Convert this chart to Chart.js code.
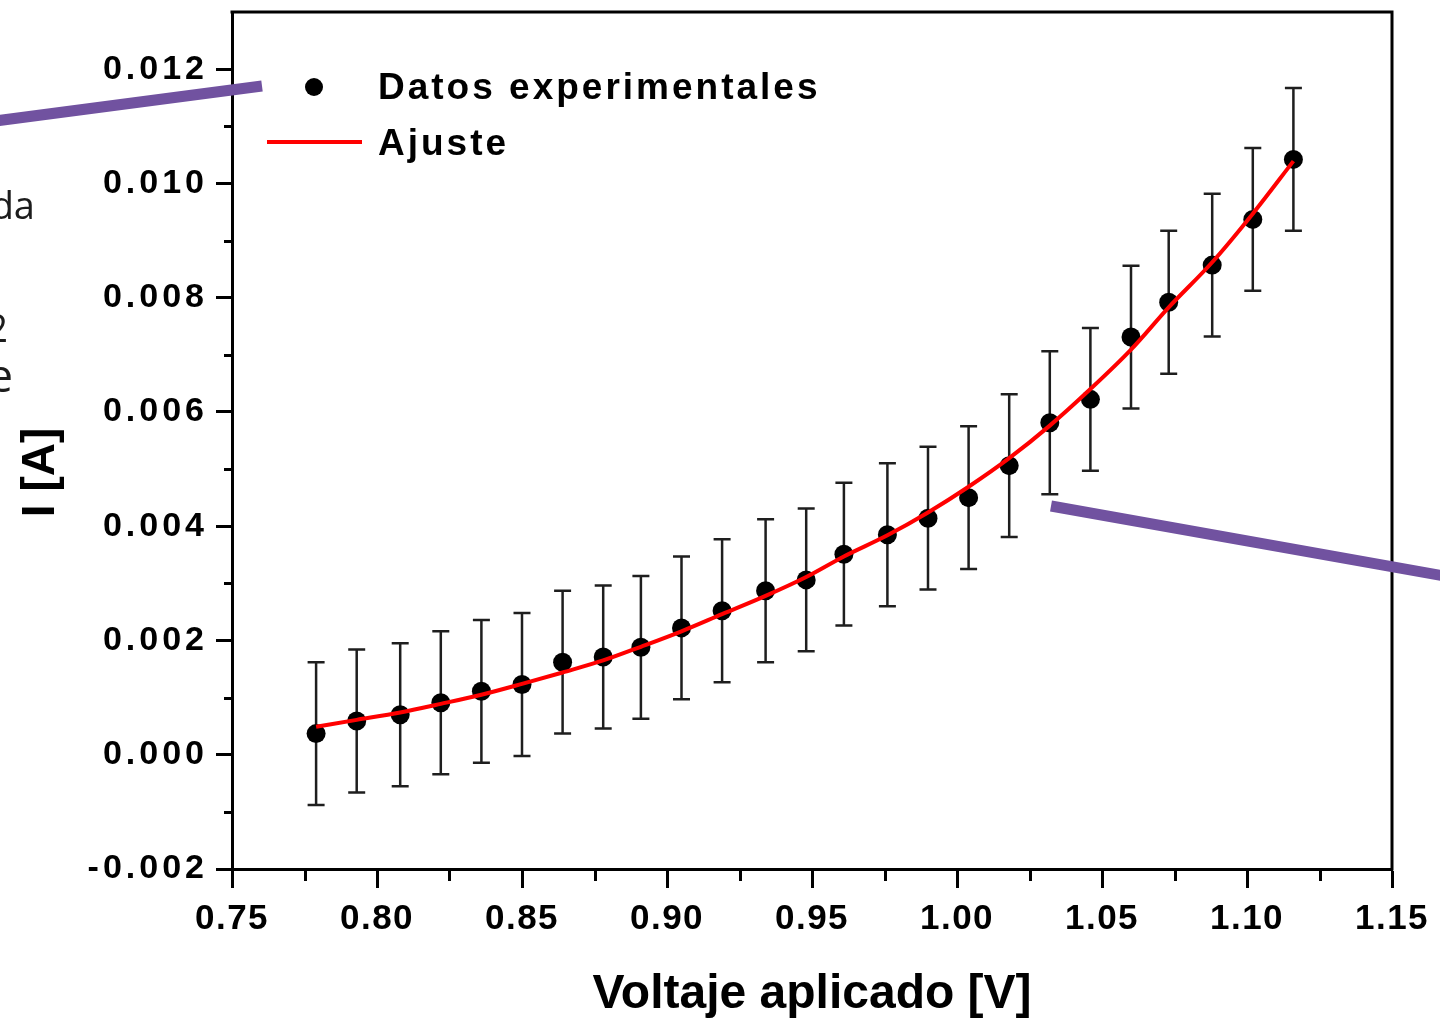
<!DOCTYPE html>
<html>
<head>
<meta charset="utf-8">
<script src="https://cdn.jsdelivr.net/npm/chart.js@4/dist/chart.umd.min.js"></script>
<style>
  html, body { margin: 0; padding: 0; background: #ffffff; width: 1440px; height: 1024px; overflow: hidden; }
  #wrap { position: relative; width: 1440px; height: 1024px; overflow: hidden; }
  #c { position: absolute; left: 0; top: 0; }
  .frag { position: absolute; font-family: "Open Sans", "Noto Sans", sans-serif; color: #1c1c1c; white-space: nowrap; text-align: right; }
</style>
</head>
<body>
<div id="wrap">
  <canvas id="c" width="1440" height="1024"></canvas>
  <div class="frag" style="right:1405px; top:185px; font-size:38px; line-height:38px;">da</div>
  <div class="frag" style="right:1432px; top:308px; font-size:38px; line-height:38px;">2</div>
  <div class="frag" style="right:1427px; top:351px; font-size:46px; line-height:46px;">e</div>
</div>
<script>
// ---------- data ----------
const voltage = [0.779, 0.793, 0.808, 0.822, 0.836, 0.850, 0.864, 0.878, 0.891, 0.905,
                 0.919, 0.934, 0.948, 0.961, 0.976, 0.990, 1.004, 1.018, 1.032, 1.046,
                 1.060, 1.073, 1.088, 1.102, 1.116];
const current = [0.00037, 0.00059, 0.00070, 0.00091, 0.00111, 0.00123, 0.00162, 0.00171, 0.00188, 0.00222,
                 0.00252, 0.00287, 0.00306, 0.00351, 0.00385, 0.00414, 0.00450, 0.00506, 0.00581, 0.00622,
                 0.00731, 0.00792, 0.00857, 0.00937, 0.01042];
const currentErr = [0.00125, 0.00125, 0.00125, 0.00125, 0.00125, 0.00125, 0.00125, 0.00125, 0.00125, 0.00125,
                    0.00125, 0.00125, 0.00125, 0.00125, 0.00125, 0.00125, 0.00125, 0.00125, 0.00125, 0.00125,
                    0.00125, 0.00125, 0.00125, 0.00125, 0.00125];
const fitVoltage = [0.779, 0.793, 0.808, 0.822, 0.836, 0.850, 0.864, 0.878, 0.891, 0.905,
                    0.919, 0.934, 0.948, 0.961, 0.976, 0.990, 1.004, 1.018, 1.032, 1.046,
                    1.060, 1.073, 1.088, 1.102, 1.116];
const fitCurrent = [0.00049, 0.00061, 0.00074, 0.00089, 0.00105, 0.00124, 0.00144, 0.00165, 0.00189, 0.00216,
                    0.00246, 0.00278, 0.00311, 0.00347, 0.00384, 0.00424, 0.00469, 0.00519, 0.00576, 0.00640,
                    0.00709, 0.00783, 0.00862, 0.00947, 0.01039];
const xTicks = [0.75, 0.80, 0.85, 0.90, 0.95, 1.00, 1.05, 1.10, 1.15];
const xMinorTicks = [0.775, 0.825, 0.875, 0.925, 0.975, 1.025, 1.075, 1.125];
const yTicks = [-0.002, 0.000, 0.002, 0.004, 0.006, 0.008, 0.010, 0.012];
const yMinorTicks = [-0.001, 0.001, 0.003, 0.005, 0.007, 0.009, 0.011];
const seriesLabels = ['Datos experimentales', 'Ajuste'];
const xTitle = 'Voltaje aplicado [V]';
const yTitle = 'I [A]';

const FONT = '"Liberation Sans", Arial, "DejaVu Sans", sans-serif';

// letter spacing for tick labels (the reference glyphs are widely spaced)
const LETTER_SPACING = { x: '1.5px', y: '4px' };
const LinearScale = Chart.registry.getScale('linear');
const origDrawLabels = LinearScale.prototype.drawLabels;
LinearScale.prototype.drawLabels = function (area) {
  const c = this.ctx;
  const prev = c.letterSpacing;
  c.letterSpacing = LETTER_SPACING[this.id] || '0px';
  origDrawLabels.call(this, area);
  c.letterSpacing = prev || '0px';
};

const deco = {
  id: 'deco',
  beforeDatasetsDraw(chart) {
    const { ctx, scales: { x, y } } = chart;
    ctx.save();
    ctx.strokeStyle = '#1e1e1e';
    ctx.lineWidth = 2.5;
    voltage.forEach((v, i) => {
      const px = x.getPixelForValue(v);
      const top = y.getPixelForValue(current[i] + currentErr[i]);
      const bot = y.getPixelForValue(current[i] - currentErr[i]);
      ctx.beginPath();
      ctx.moveTo(px, top); ctx.lineTo(px, bot);
      ctx.moveTo(px - 8.5, top); ctx.lineTo(px + 8.5, top);
      ctx.moveTo(px - 8.5, bot); ctx.lineTo(px + 8.5, bot);
      ctx.stroke();
    });
    ctx.restore();
  },
  afterDraw(chart) {
    const { ctx, chartArea: a, scales: { x, y } } = chart;
    ctx.save();
    // frame top / right
    ctx.strokeStyle = '#000';
    ctx.lineWidth = 3;
    ctx.beginPath();
    ctx.moveTo(a.left - 1.5, a.top); ctx.lineTo(a.right, a.top);
    ctx.lineTo(a.right, a.bottom + 1.5);
    ctx.stroke();
    // minor ticks
    ctx.beginPath();
    xMinorTicks.forEach(v => {
      const px = Math.round(x.getPixelForValue(v)) + 0.5;
      ctx.moveTo(px, a.bottom); ctx.lineTo(px, a.bottom + 12);
    });
    yMinorTicks.forEach(v => {
      const py = Math.round(y.getPixelForValue(v)) + 0.5;
      ctx.moveTo(a.left, py); ctx.lineTo(a.left - 8, py);
    });
    ctx.stroke();

    // legend
    ctx.fillStyle = '#000';
    ctx.beginPath();
    ctx.arc(314, 87, 9, 0, Math.PI * 2);
    ctx.fill();
    ctx.strokeStyle = '#ff0000';
    ctx.lineWidth = 4;
    ctx.beginPath();
    ctx.moveTo(267, 142); ctx.lineTo(362, 142);
    ctx.stroke();
    ctx.letterSpacing = '3px';
    ctx.font = 'bold 37px ' + FONT;
    ctx.textAlign = 'left';
    ctx.textBaseline = 'alphabetic';
    ctx.fillStyle = '#000';
    ctx.fillText(seriesLabels[0], 378, 99);
    ctx.fillText(seriesLabels[1], 378, 155);
    ctx.letterSpacing = '0px';

    // purple annotation lines
    ctx.strokeStyle = '#7152a0';
    ctx.lineWidth = 11;
    ctx.lineCap = 'butt';
    ctx.beginPath();
    ctx.moveTo(-5, 121); ctx.lineTo(262, 86);
    ctx.moveTo(1051, 506); ctx.lineTo(1450, 577);
    ctx.stroke();
    ctx.restore();
  }
};

new Chart(document.getElementById('c'), {
  type: 'scatter',
  data: {
    datasets: [
      {
        label: seriesLabels[1],
        data: fitVoltage.map((v, i) => ({ x: v, y: fitCurrent[i] })),
        showLine: true,
        borderColor: '#ff0000',
        borderWidth: 4,
        pointRadius: 0,
        cubicInterpolationMode: 'monotone',
        fill: false,
        order: 0
      },
      {
        label: seriesLabels[0],
        data: voltage.map((v, i) => ({ x: v, y: current[i] })),
        backgroundColor: '#000',
        borderColor: '#000',
        borderWidth: 0,
        pointRadius: 9.5,
        order: 1
      }
    ]
  },
  options: {
    responsive: false,
    animation: false,
    devicePixelRatio: 1,
    layout: { padding: { top: 12, right: 48, left: 0, bottom: 0 } },
    plugins: { legend: { display: false }, tooltip: { enabled: false } },
    scales: {
      x: {
        type: 'linear', position: 'bottom', min: 0.75, max: 1.15,
        afterBuildTicks: s => { s.ticks = xTicks.map(v => ({ value: v })); },
        afterFit: s => { s.height = 155; s.paddingLeft = 0; s.paddingRight = 0; },
        ticks: {
          callback: v => Number(v).toFixed(2),
          font: { family: FONT, size: 35, weight: 'bold' },
          color: '#000', padding: 10, maxRotation: 0, minRotation: 0, autoSkip: false
        },
        grid: { display: true, drawOnChartArea: false, drawTicks: true, tickLength: 19, tickWidth: 3, tickColor: '#000' },
        border: { display: true, color: '#000', width: 3 },
        title: {
          display: true, text: xTitle, color: '#000',
          font: { family: FONT, size: 48, weight: 'bold' },
          padding: { top: 0, bottom: 0 }
        }
      },
      y: {
        type: 'linear', position: 'left', min: -0.002, max: 0.013,
        afterBuildTicks: s => { s.ticks = yTicks.map(v => ({ value: v })); },
        afterFit: s => { s.width = 232; s.paddingTop = 0; s.paddingBottom = 0; },
        ticks: {
          callback: v => Number(v).toFixed(3),
          font: { family: FONT, size: 34, weight: 'bold' },
          color: '#000', padding: 8, autoSkip: false
        },
        grid: { display: true, drawOnChartArea: false, drawTicks: true, tickLength: 16, tickWidth: 3, tickColor: '#000' },
        border: { display: true, color: '#000', width: 3 },
        title: {
          display: true, text: yTitle + '\u00a0\u00a0\u00a0\u00a0\u00a0', color: '#000',
          font: { family: FONT, size: 46, weight: 'bold' },
          padding: { top: 14, bottom: 0 }
        }
      }
    }
  },
  plugins: [deco]
});
</script>
</body>
</html>
